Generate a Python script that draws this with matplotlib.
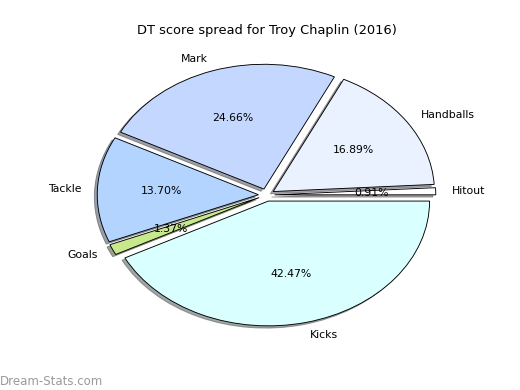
import matplotlib
matplotlib.use('Agg')
import matplotlib.pyplot as plt

labels = ['Hitout', 'Handballs', 'Mark', 'Tackle', 'Goals', 'Kicks']
values = [0.91, 16.89, 24.66, 13.70, 1.37, 42.47]
colors = ['#ffffff', '#eaf1ff', '#c4d8ff', '#b3d4ff', '#c8e88c', '#d9ffff']
explode = [0.05] * len(values)

fig = plt.figure(figsize=(8, 6), dpi=65)
ax = fig.add_subplot(111)
fig.subplots_adjust(left=0.125, right=0.9, bottom=0.1, top=0.9)

wedges, texts, autotexts = ax.pie(values, labels=labels, colors=colors, explode=explode,
                                  autopct='%1.2f%%', shadow=True, startangle=0,
                                  wedgeprops={'edgecolor': 'black', 'linewidth': 1.0},
                                  textprops={'fontsize': 12})
ax.set_aspect('auto')
ax.set_xlim(-1.25, 1.25)
ax.set_ylim(-1.25, 1.25)
ax.set_title('DT score spread for Troy Chaplin (2016)', fontsize=14.4)

# watermark
fig.text(0.0, 0.012, 'Dream-Stats.com', fontsize=13, color='#9a9a9a', weight='medium')

fig.savefig('out.png', dpi=65)
